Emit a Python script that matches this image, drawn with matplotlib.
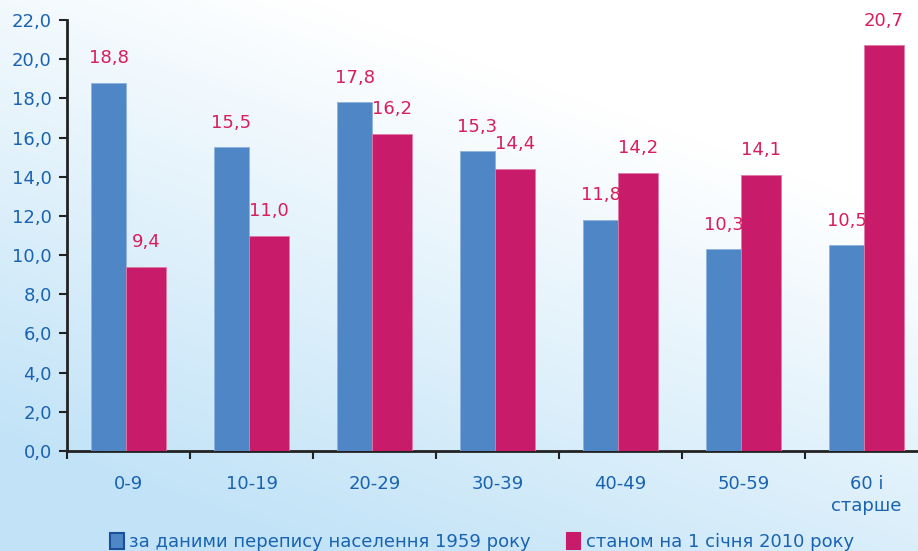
import numpy as np
import matplotlib
matplotlib.use("Agg")
import matplotlib.pyplot as plt
from matplotlib.patches import Patch

categories = ["0-9", "10-19", "20-29", "30-39", "40-49", "50-59", "60 і\nстарше"]
values_1959 = [18.8, 15.5, 17.8, 15.3, 11.8, 10.3, 10.5]
values_2010 = [9.4, 11.0, 16.2, 14.4, 14.2, 14.1, 20.7]
series_names = ["за даними перепису населення 1959 року", "станом на 1 січня 2010 року"]
yticks = np.arange(0, 22.01, 2.0)

blue = "#4F86C6"
pink = "#C81C6A"
text_blue = "#1A63B0"
label_red = "#D81E5B"

plt.rcParams['font.family'] = ['DejaVu Sans']

fig = plt.figure(figsize=(9.18, 5.51), dpi=100)

# background gradient
bg = fig.add_axes([0, 0, 1, 1], zorder=-10)
h, w = 200, 330
yy, xx = np.mgrid[0:1:h*1j, 0:1:w*1j]
t = np.clip((yy * 1.0 + (1 - xx) * 0.6 - 0.4) / 1.0, 0, 1)
c_top = np.array([1.0, 1.0, 1.0])
c_bot = np.array([0.76, 0.89, 0.97])
img = c_top[None, None, :] * (1 - t[..., None]) + c_bot[None, None, :] * t[..., None]
bg.imshow(img, aspect='auto', extent=[0, 1, 0, 1], origin='upper')
bg.axis('off')

ax = fig.add_axes([67/918, 1 - 451/551, 7*123/918, (451-20)/551])
ax.patch.set_alpha(0)

x = np.arange(len(categories))
bw1 = 0.285
bw2 = 0.326
split = -0.02
b1 = ax.bar(x + split - bw1, values_1959, bw1, align='edge', color=blue, edgecolor="#8FB2DD",
            linewidth=0.6, zorder=3)
b2 = ax.bar(x + split, values_2010, bw2, align='edge', color=pink, edgecolor="#E07AA6",
            linewidth=0.6, zorder=3)

def fmt(v):
    return f"{v:.1f}".replace(".", ",")

for rect, v in zip(b1, values_1959):
    ax.text(rect.get_x() + rect.get_width()/2, v + 0.8, fmt(v), ha='center', va='bottom',
            color=label_red, fontsize=13)
for rect, v in zip(b2, values_2010):
    ax.text(rect.get_x() + rect.get_width()/2, v + 0.8, fmt(v), ha='center', va='bottom',
            color=label_red, fontsize=13)

ax.set_xlim(-0.5, len(categories) - 0.5)
ax.set_ylim(0, 22)
ax.set_yticks(yticks)
ax.set_yticklabels([fmt(v) for v in yticks], color=text_blue, fontsize=13)
ax.set_xticks(np.arange(len(categories) + 1) - 0.5)
ax.set_xticklabels([])
ax.set_xticks(x, minor=True)
ax.set_xticklabels(categories, minor=True, color=text_blue, fontsize=13, linespacing=1.3, va='top')
ax.tick_params(axis='x', which='minor', length=0, pad=17)
ax.tick_params(axis='x', which='major', length=6, width=1.5, direction='out', color='#222222')
ax.tick_params(axis='y', length=6, width=1.5, direction='out', color='#222222', pad=5)
for s in ['top', 'right']:
    ax.spines[s].set_visible(False)
for s in ['left', 'bottom']:
    ax.spines[s].set_linewidth(2)
    ax.spines[s].set_color('#222222')

handles = [Patch(facecolor=blue, edgecolor="#1A4F9A", linewidth=1.5),
           Patch(facecolor=pink, edgecolor=pink, linewidth=1.5)]
leg = fig.legend(handles, series_names, loc='lower center', bbox_to_anchor=(0.525, -0.03),
                 ncol=2, frameon=False, fontsize=13, handlelength=0.75, handleheight=0.95,
                 handletextpad=0.3, columnspacing=2.0)
for t_ in leg.get_texts():
    t_.set_color(text_blue)

fig.savefig("out.png", dpi=100)
